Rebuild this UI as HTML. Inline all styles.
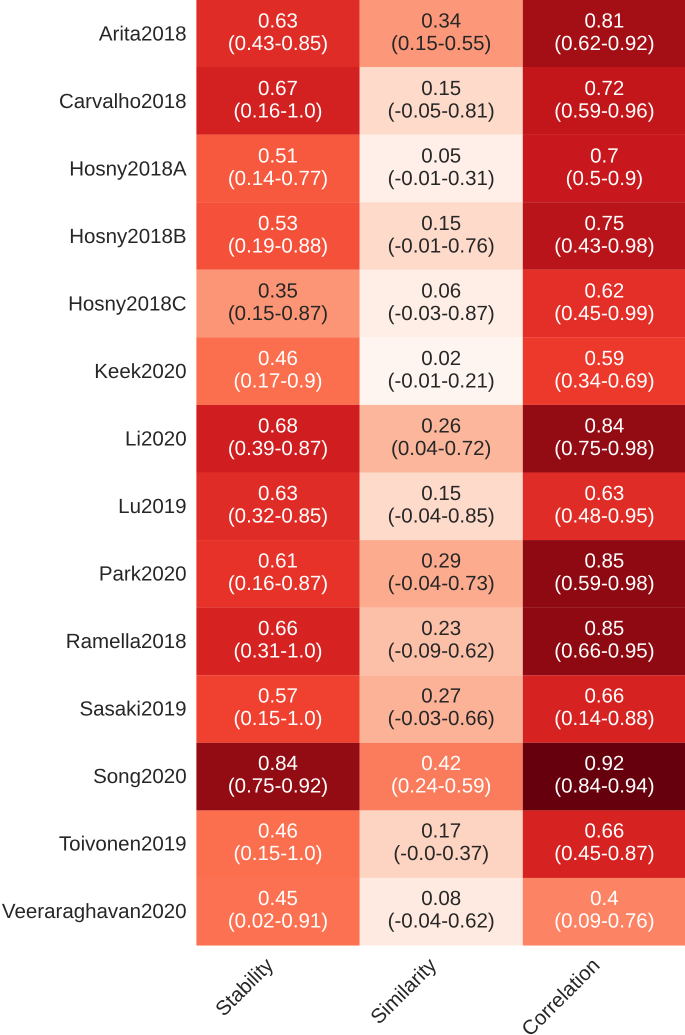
<!DOCTYPE html>
<html lang="en">
<head>
<meta charset="utf-8">
<title>Heatmap</title>
<style>
html,body{margin:0;padding:0;background:#fff;width:685px;height:1035px;overflow:hidden}
svg{display:block}
text{font-family:"Liberation Sans",Arial,sans-serif;font-size:20.5px;fill:#262626;text-rendering:geometricPrecision}
</style>
</head>
<body>
<svg id="chart" xmlns="http://www.w3.org/2000/svg" width="685" height="1035" viewBox="0 0 685 1035"></svg>
<script>
const studies = ["Arita2018","Carvalho2018","Hosny2018A","Hosny2018B","Hosny2018C","Keek2020","Li2020","Lu2019","Park2020","Ramella2018","Sasaki2019","Song2020","Toivonen2019","Veeraraghavan2020"];
const metrics = ["Stability","Similarity","Correlation"];
const stabilityValues = [0.63,0.67,0.51,0.53,0.35,0.46,0.68,0.63,0.61,0.66,0.57,0.84,0.46,0.45];
const similarityValues = [0.34,0.15,0.05,0.15,0.06,0.02,0.26,0.15,0.29,0.23,0.27,0.42,0.17,0.08];
const correlationValues = [0.81,0.72,0.7,0.75,0.62,0.59,0.84,0.63,0.85,0.85,0.66,0.92,0.66,0.4];
const stabilityRanges = ["(0.43-0.85)","(0.16-1.0)","(0.14-0.77)","(0.19-0.88)","(0.15-0.87)","(0.17-0.9)","(0.39-0.87)","(0.32-0.85)","(0.16-0.87)","(0.31-1.0)","(0.15-1.0)","(0.75-0.92)","(0.15-1.0)","(0.02-0.91)"];
const similarityRanges = ["(0.15-0.55)","(-0.05-0.81)","(-0.01-0.31)","(-0.01-0.76)","(-0.03-0.87)","(-0.01-0.21)","(0.04-0.72)","(-0.04-0.85)","(-0.04-0.73)","(-0.09-0.62)","(-0.03-0.66)","(0.24-0.59)","(-0.0-0.37)","(-0.04-0.62)"];
const correlationRanges = ["(0.62-0.92)","(0.59-0.96)","(0.5-0.9)","(0.43-0.98)","(0.45-0.99)","(0.34-0.69)","(0.75-0.98)","(0.48-0.95)","(0.59-0.98)","(0.66-0.95)","(0.14-0.88)","(0.84-0.94)","(0.45-0.87)","(0.09-0.76)"];

const columnValues = [stabilityValues, similarityValues, correlationValues];
const columnRanges = [stabilityRanges, similarityRanges, correlationRanges];

const plot = { left: 196.4, top: -0.58, colWidth: 163.2, rowHeight: 67.58 };
const scale = { min: 0.02, max: 0.92 };
const reds = [[255,245,240],[254,224,210],[252,187,161],[252,146,114],[251,106,74],[239,59,44],[203,24,29],[165,15,21],[103,0,13]];

function xScale(i) { return plot.left + i * plot.colWidth; }
function yScale(i) { return plot.top + i * plot.rowHeight; }
function textCenter(i) { return yScale(i) + plot.rowHeight / 2 - i * 0.08; }
function colorScale(v) {
  const t = Math.max(0, Math.min(1, (v - scale.min) / (scale.max - scale.min))) * (reds.length - 1);
  const i = Math.min(reds.length - 2, Math.floor(t));
  const f = t - i;
  return reds[i].map((c, k) => Math.round(c + (reds[i + 1][k] - c) * f));
}
function luminance(rgb) {
  const l = rgb.map(c => { c /= 255; return c <= 0.03928 ? c / 12.92 : Math.pow((c + 0.055) / 1.055, 2.4); });
  return 0.2126 * l[0] + 0.7152 * l[1] + 0.0722 * l[2];
}

const svg = document.getElementById("chart");
const NS = "http://www.w3.org/2000/svg";
function make(tag, attrs, parent) {
  const el = document.createElementNS(NS, tag);
  for (const k in attrs) el.setAttribute(k, attrs[k]);
  parent.appendChild(el);
  return el;
}

columnValues.forEach((vals, c) => {
  vals.forEach((v, r) => {
    const rgb = colorScale(v);
    const cell = make("rect", { x: xScale(c), y: yScale(r), width: plot.colWidth, height: plot.rowHeight, fill: "rgb(" + rgb.join(",") + ")" }, svg);
    
    
  });
});

columnValues.forEach((vals, c) => {
  vals.forEach((v, r) => {
    const rgb = colorScale(v);
    const color = luminance(rgb) > 0.408 ? "#262626" : "#ffffff";
    const cx = xScale(c) + plot.colWidth / 2;
    const cy = textCenter(r);
    const t1 = make("text", { x: cx, y: cy - 5.7, "text-anchor": "middle", style: "fill:" + color }, svg);
    t1.textContent = String(v);
    
    
    const t2 = make("text", { x: cx, y: cy + 16.8, "text-anchor": "middle", style: "fill:" + color }, svg);
    t2.textContent = columnRanges[c][r];
    
    
  });
});

studies.forEach((name, r) => {
  const t = make("text", { x: 186.6, y: textCenter(r) + 7.2, "text-anchor": "end" }, svg);
  t.textContent = name;
  
  
});

metrics.forEach((name, c) => {
  const x = xScale(c) + plot.colWidth / 2 - 3.5;
  const y = 966.5;
  const t = make("text", { x: x, y: y, "text-anchor": "end", transform: "rotate(-45 " + x + " " + y + ")" }, svg);
  t.textContent = name;
  
  
});
</script>
</body>
</html>
